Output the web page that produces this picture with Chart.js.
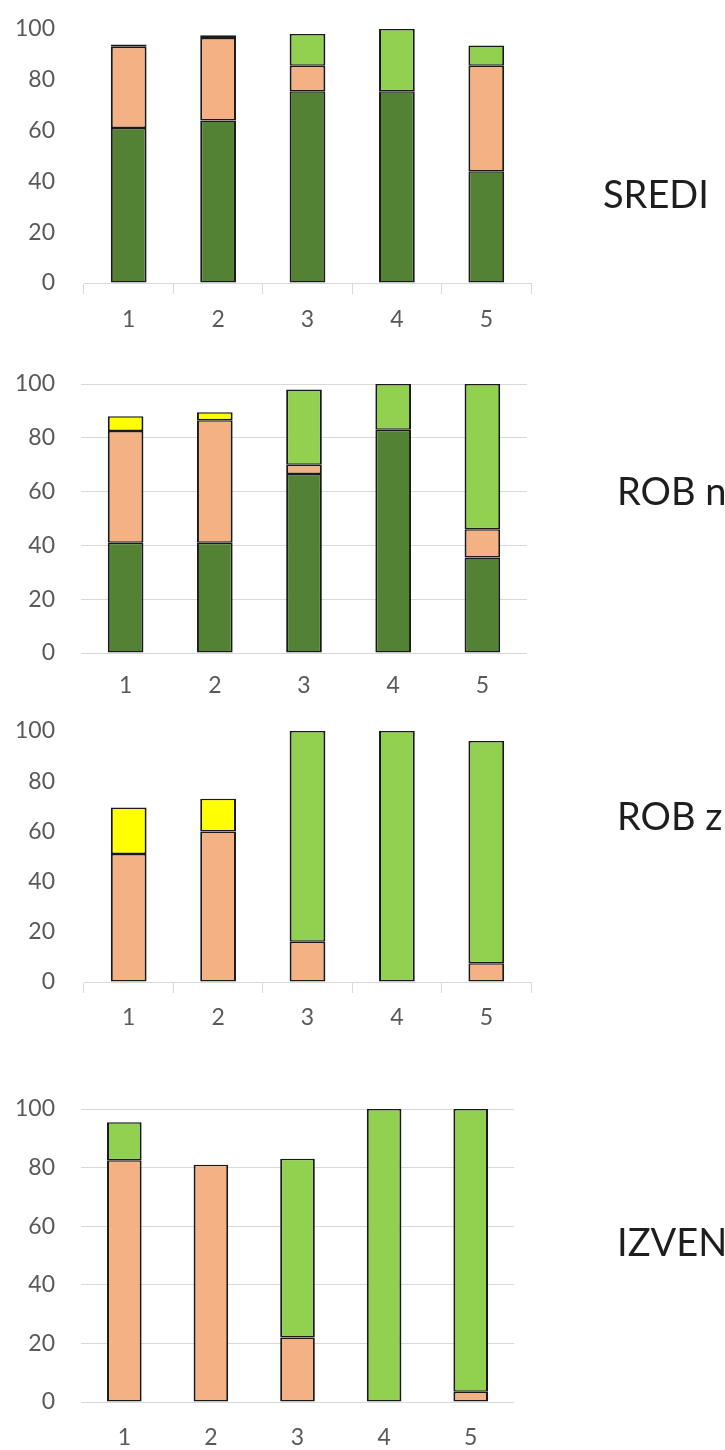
<!DOCTYPE html>
<html>
<head>
<meta charset="utf-8">
<script src="https://cdn.jsdelivr.net/npm/chart.js@4.4.0/dist/chart.umd.min.js"></script>
<style>
  html, body { margin: 0; padding: 0; background: #fff; }
  body { width: 725px; height: 1450px; position: relative; overflow: hidden; font-family: Lato, sans-serif; }
  .panel { position: absolute; left: 0; }
  .panel canvas { display: block; }
  .title { position: absolute; font-size: 38px; line-height: 1; color: #1e1e1e; white-space: nowrap; }
</style>
</head>
<body>
<script>
// ---- data ----
const categories = ["1", "2", "3", "4", "5"];
const yTicks = [0, 20, 40, 60, 80, 100];
const panelTitles = ["SREDI", "ROB n", "ROB z", "IZVEN"];

// SREDI
const srediDark = [61, 64, 75.5, 75.5, 44];
const srediOrange = [32, 32.5, 10, null, 41.5];
const srediYellow = [0.9, 1, null, null, null];
const srediLight = [null, null, 12.5, 24.5, 8];

// ROB n
const robNDark = [41, 41, 66.5, 83, 35.5];
const robNOrange = [41.5, 45.5, 3.5, null, 10.5];
const robNYellow = [5.5, 3, null, null, null];
const robNLight = [null, null, 28, 17, 54];

// ROB z
const robZDark = [null, null, null, null, null];
const robZOrange = [51, 60, 16, null, 7.5];
const robZYellow = [18.5, 13, null, null, null];
const robZLight = [null, null, 84, 100, 88.5];

// IZVEN
const izvenDark = [null, null, null, null, null];
const izvenOrange = [82.5, 81, 22, null, 3.5];
const izvenYellow = [null, null, null, null, null];
const izvenLight = [13, null, 61, 100, 96.5];

// ---- styles ----
const seriesColors = ["#548235", "#F4B183", "#FFFF00", "#92D050"];
const gridGray = "#d9d9d9";
const labelGray = "#595959";

Chart.defaults.font.family = "Lato, sans-serif";
Chart.defaults.font.size = 23;
Chart.defaults.color = labelGray;

// placement of each small chart on the page
const panels = [
  { top: 0,    height: 333, plotTop: 29,  left: 84, right: 531, grid: false, labelPad: 12, titleX: 603, titleY: 180,
    series: [srediDark, srediOrange, srediYellow, srediLight] },
  { top: 345,  height: 358, plotTop: 384, left: 81, right: 527, grid: true,  labelPad: 19, titleX: 617, titleY: 477,
    series: [robNDark, robNOrange, robNYellow, robNLight] },
  { top: 705,  height: 327, plotTop: 731, left: 84, right: 531, grid: false, labelPad: 11, titleX: 617, titleY: 802,
    series: [robZDark, robZOrange, robZYellow, robZLight] },
  { top: 1040, height: 412, plotTop: 1109, left: 81, right: 514, grid: true, labelPad: 22, titleX: 617, titleY: 1228,
    series: [izvenDark, izvenOrange, izvenYellow, izvenLight] },
];

const X_AXIS_H = 50;
const Y_LABEL_RIGHT = 55;

panels.forEach((p, i) => {
  const wrap = document.createElement("div");
  wrap.className = "panel";
  wrap.style.top = p.top + "px";
  const cv = document.createElement("canvas");
  cv.width = 725;
  cv.height = p.height;
  wrap.appendChild(cv);
  document.body.appendChild(wrap);

  const title = document.createElement("div");
  title.className = "title";
  title.textContent = panelTitles[i];
  title.style.left = p.titleX + "px";
  title.style.top = (p.titleY - 6.5) + "px";
  document.body.appendChild(title);

  new Chart(cv, {
    type: "bar",
    data: {
      labels: categories,
      datasets: p.series.map((vals, k) => ({
        data: vals,
        backgroundColor: seriesColors[k],
        borderColor: "#1a1a1a",
        borderWidth: { top: 1.5, bottom: 1.5, left: 2, right: 2 },
        borderSkipped: false,
        categoryPercentage: 1,
        barPercentage: 0.4,
      })),
    },
    options: {
      responsive: false,
      animation: false,
      layout: {
        padding: { top: p.plotTop - p.top, left: 0, right: 725 - p.right, bottom: 0 },
      },
      plugins: {
        legend: { display: false },
        tooltip: { enabled: false },
      },
      scales: {
        x: {
          stacked: true,
          grid: {
            display: !p.grid,
            drawOnChartArea: false,
            drawTicks: !p.grid,
            tickLength: 11,
            offset: true,
            color: gridGray,
          },
          border: { display: !p.grid, color: gridGray, width: 1 },
          ticks: { padding: p.labelPad, color: labelGray },
          afterFit: (s) => { s.height = X_AXIS_H; },
        },
        y: {
          stacked: true,
          min: 0,
          max: 100,
          // gap between labels and plot comes from an invisible tick mark,
          // so ticks.padding doesn't push the plot area down
          grid: {
            display: true,
            drawOnChartArea: p.grid,
            drawTicks: true,
            tickLength: p.left - Y_LABEL_RIGHT,
            tickColor: "rgba(0,0,0,0)",
            color: gridGray,
            lineWidth: 1,
          },
          border: { display: false },
          ticks: { padding: 0, color: labelGray },
          afterBuildTicks: (s) => { s.ticks = yTicks.map((v) => ({ value: v })); },
          afterFit: (s) => { s.width = p.left; },
        },
      },
    },
  });
});
</script>
</body>
</html>
